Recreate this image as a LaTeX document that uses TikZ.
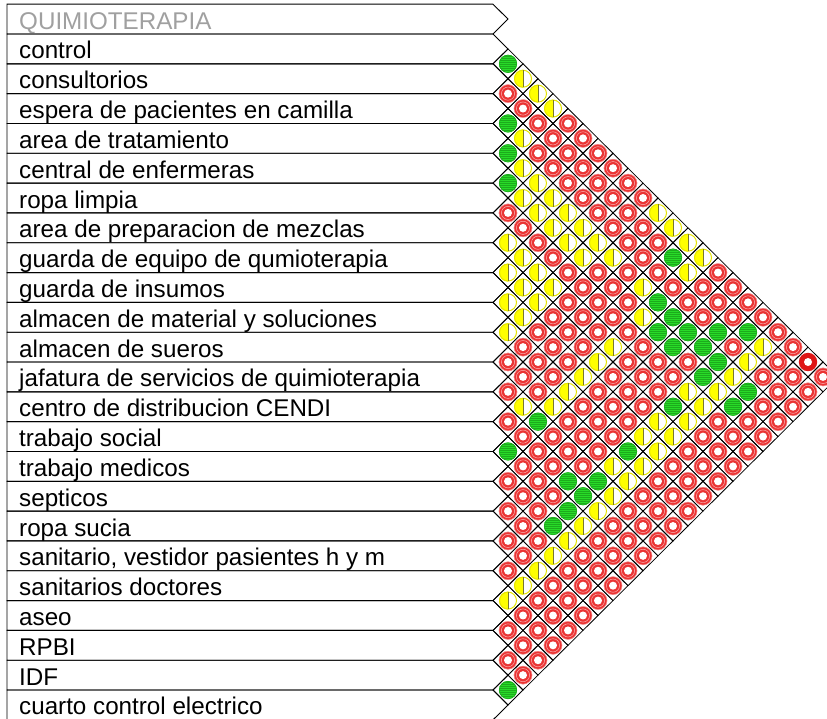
\documentclass[tikz,border=0pt]{standalone}
\usepackage{fontspec}
\setmainfont{Liberation Sans}
\definecolor{gfill}{RGB}{40,218,40}
\definecolor{gline}{RGB}{28,172,28}
\definecolor{yfill}{RGB}{255,255,0}
\definecolor{yline}{RGB}{228,228,0}
\definecolor{ymid}{RGB}{120,120,50}
\definecolor{rfill}{RGB}{234,52,52}
\definecolor{rline}{RGB}{250,175,175}
\definecolor{dred}{RGB}{222,22,22}
\definecolor{hdr}{RGB}{160,160,160}
\newcommand\symG{%
  \fill[gfill] (0,0) circle (9pt);
  \begin{scope}
    \clip (0,0) circle (9pt);
    \foreach \d in {-7.5,-5.5,...,8} \draw[gline,line width=0.35pt] (-9,\d) -- (9,\d);
  \end{scope}
  \draw[gline,line width=0.7pt] (0,0) circle (8.7pt);}
\newcommand\symY{%
  \fill[white] (0,0) circle (9pt);
  \begin{scope}
    \clip (-10,-10) rectangle (0,10);
    \fill[yfill] (0,0) circle (9pt);
  \end{scope}
  \draw[yline,line width=1pt] (0,0) circle (8.5pt);
  \draw[ymid,line width=0.6pt] (0,-8.5) -- (0,8.5);}
\newcommand\symR{%
  \fill[rfill] (0,0) circle (9.2pt);
  \fill[white] (0,0) circle (4pt);
  \draw[rline,line width=0.5pt] (0,0) circle (6.6pt);
  \draw[rline,line width=0.35pt] (0,0) circle (9pt);}
\newcommand\symD{%
  \fill[dred] (0,0) circle (9.2pt);
  \fill[white] (0,0) circle (4pt);}
\newcommand\cellrow[2]{%
  \foreach \s [count=\k] in {#2} {
    \pgfmathsetmacro\cx{493+15*\k}
    \pgfmathsetmacro\cy{19.09+14.91*(2*#1+\k)}
    \draw[cellline] (\cx-15,\cy) -- (\cx,\cy-14.91) -- (\cx+15,\cy) -- (\cx,\cy+14.91) -- cycle;
    \begin{scope}[shift={(\cx,\cy)}]
      \csname sym\s\endcsname
    \end{scope}
  }}
\begin{document}
\begin{tikzpicture}[x=1pt,y=-1pt,
  cellline/.style={draw=black,line width=0.8pt},
  boxline/.style={draw=black,line width=0.9pt},
  lbl/.style={anchor=base west,inner sep=0pt,font=\fontsize{24.2}{28}\selectfont}]
\useasboundingbox (0,0) rectangle (827,719);
\clip (0,0) rectangle (827,719);
\fill[white] (0,0) rectangle (827,719);
\foreach \t [count=\n from 0] in {{\textcolor{hdr}{QUIMIOTERAPIA}},control,consultorios,
  espera de pacientes en camilla,area de tratamiento,central de enfermeras,ropa limpia,
  area de preparacion de mezclas,guarda de equipo de qumioterapia,guarda de insumos,
  almacen de material y soluciones,almacen de sueros,jafatura de servicios de quimioterapia,
  centro de distribucion CENDI,trabajo social,trabajo medicos,septicos,ropa sucia,
  {sanitario, vestidor pasientes h y m},sanitarios doctores,aseo,RPBI,IDF,cuarto control electrico} {
  \pgfmathsetmacro\bt{4.18+29.82*\n}
  \pgfmathsetmacro\bb{\bt+29.82}
  \pgfmathsetmacro\cc{\bt+14.91}
  \draw[boxline] (7,\bt) -- (493,\bt) -- (508,\cc) -- (493,\bb) -- (7,\bb) -- cycle;
  \node[lbl] (r\n) at (19,\cc+10) {\t};
}
\cellrow{1}{G,Y,Y,Y,R,R,R,R,R,R,Y,Y,Y,Y,R,R,R,R,R,R,D,R}
\cellrow{2}{R,R,R,R,R,R,R,R,R,R,R,G,Y,R,R,R,G,Y,R,R,R}
\cellrow{3}{G,Y,R,R,R,R,R,R,R,R,R,R,R,R,G,R,Y,R,R,R}
\cellrow{4}{G,Y,Y,Y,Y,Y,Y,Y,R,Y,G,G,G,G,G,Y,G,R,R}
\cellrow{5}{G,Y,Y,Y,Y,Y,R,R,R,Y,G,G,R,G,Y,G,R,R}
\cellrow{6}{R,R,R,R,R,R,R,R,R,R,R,R,Y,Y,R,R,R}
\cellrow{7}{Y,Y,Y,Y,R,R,R,Y,R,R,R,G,Y,R,R,R}
\cellrow{8}{Y,Y,Y,R,R,R,Y,R,R,R,Y,Y,R,R,R}
\cellrow{9}{Y,Y,R,R,R,Y,R,R,R,Y,Y,R,R,R}
\cellrow{10}{Y,R,R,R,Y,R,R,R,G,Y,R,R,R}
\cellrow{11}{R,R,R,Y,R,R,R,Y,Y,R,R,R}
\cellrow{12}{R,Y,G,R,R,R,G,Y,R,R,R}
\cellrow{13}{R,R,R,R,G,G,Y,R,R,R}
\cellrow{14}{G,R,R,R,G,Y,R,R,R}
\cellrow{15}{R,R,R,G,Y,R,R,R}
\cellrow{16}{R,R,R,Y,R,R,R}
\cellrow{17}{R,R,Y,R,R,R}
\cellrow{18}{R,Y,R,R,R}
\cellrow{19}{Y,R,R,R}
\cellrow{20}{R,R,R}
\cellrow{21}{R,R}
\cellrow{22}{G}
\end{tikzpicture}
\end{document}
